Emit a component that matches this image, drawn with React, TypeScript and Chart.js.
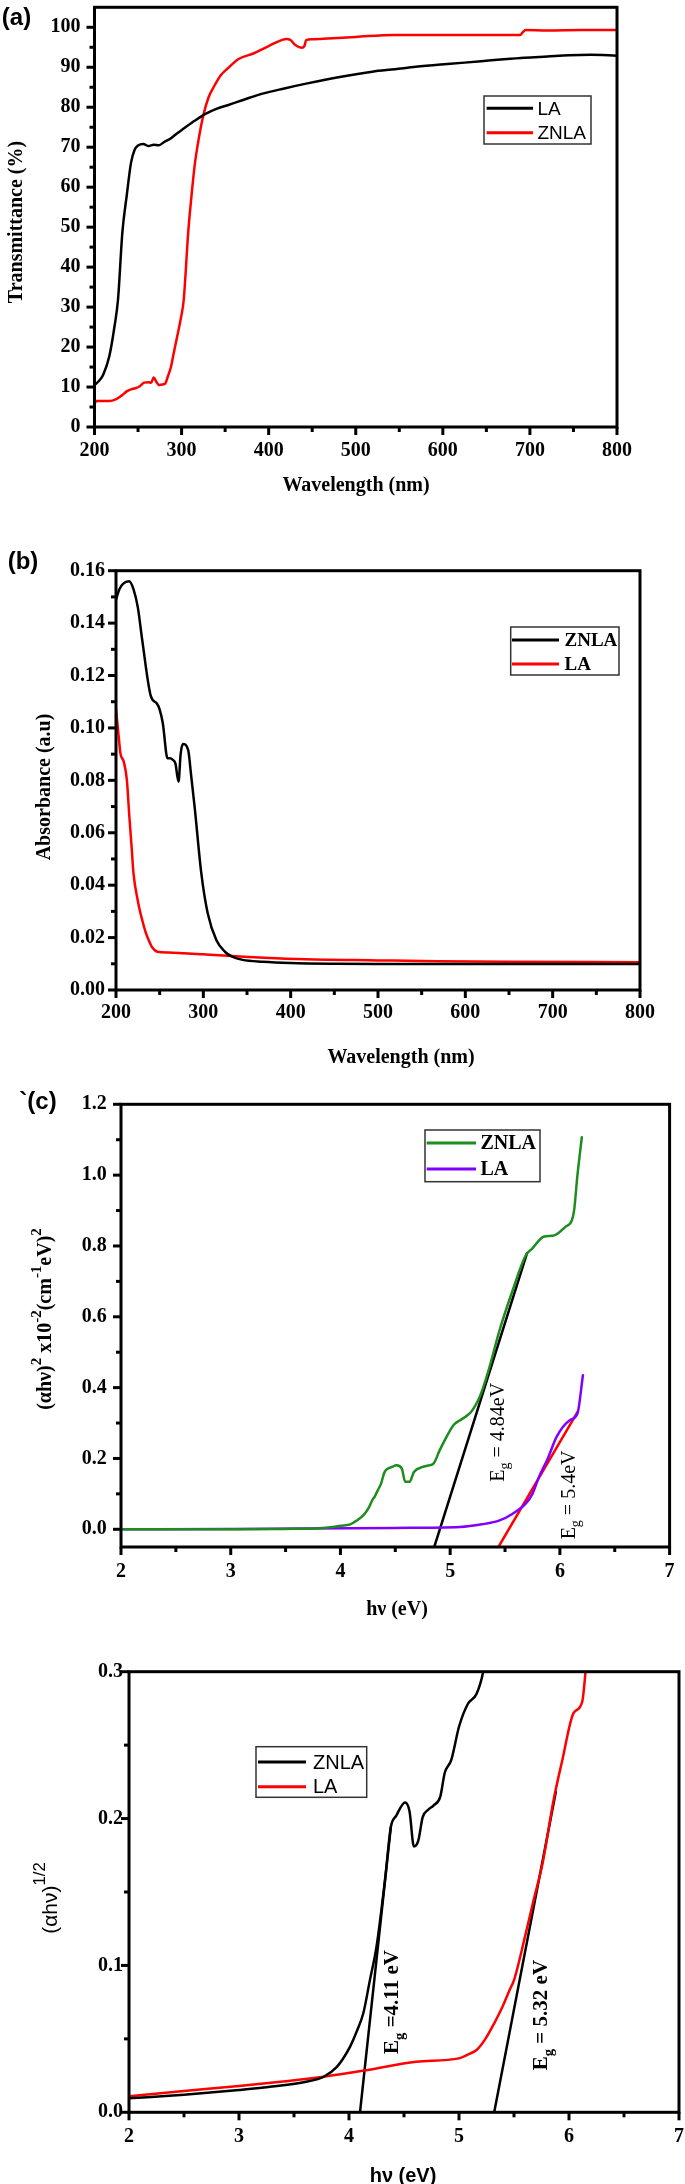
import React, { useEffect, useRef } from 'react';
import { Chart, registerables } from 'chart.js';

Chart.register(...registerables);

const SERIF = '"Liberation Serif", "Times New Roman", serif';
const SANS = '"Liberation Sans", Arial, sans-serif';
const PAGE_W = 685;

// ---------- Panel (a): Transmittance ----------
const waveLA_T = [200, 205, 210, 217, 223, 227, 232, 237, 242, 246, 250, 256, 262, 268, 274, 280, 287, 295, 302, 315, 328, 340, 353, 373, 393, 418, 443, 480, 519, 545, 569, 605, 644, 670, 694, 720, 745, 770, 800];
const transLA = [10.5, 11.5, 13.1, 17.7, 25.2, 31.9, 48.7, 57.9, 66.2, 69.3, 70.4, 70.8, 70.3, 70.6, 70.5, 71.3, 72.1, 73.5, 74.6, 76.6, 78.4, 79.6, 80.5, 82.0, 83.4, 84.7, 85.9, 87.5, 88.9, 89.5, 90.1, 90.8, 91.5, 92.0, 92.4, 92.7, 93.0, 93.1, 92.9];
const waveZN_T = [200, 202, 210, 217, 225, 232, 237, 242, 247, 252, 257, 262, 265, 268, 271, 274, 277, 281, 284, 288, 291, 295, 299, 302.5, 307.6, 311, 315, 320, 325, 331, 338, 345, 353, 365, 383, 400, 421, 425, 431, 438, 441, 443, 450, 468, 500, 544, 600, 650, 689, 692, 695, 720, 760, 800];
const transZN = [5.8, 6.5, 6.5, 6.5, 7.0, 8.0, 8.9, 9.4, 9.7, 10.2, 11.1, 11.2, 11.1, 12.4, 11.3, 10.5, 10.6, 10.8, 12.5, 15.2, 18.5, 22.7, 27.0, 31.9, 48.7, 57.0, 65.4, 72.5, 78.0, 82.5, 85.5, 88.0, 89.7, 92.0, 93.5, 95.3, 97.1, 96.8, 95.5, 94.9, 95.3, 96.8, 97.0, 97.2, 97.6, 98.1, 98.1, 98.1, 98.1, 98.8, 99.3, 99.2, 99.3, 99.3];

// ---------- Panel (b): Absorbance ----------
const waveZN_A = [200, 204, 208, 215, 220, 225, 230, 240, 246.6, 250, 253.6, 259, 262, 265, 268, 271.6, 274, 276.6, 282.6, 286, 290, 297.7, 305, 315, 325, 333, 345, 368, 400, 450, 500, 600, 700, 800];
const absZN = [0.149, 0.153, 0.155, 0.156, 0.153, 0.146, 0.1336, 0.112, 0.1094, 0.107, 0.1018, 0.0884, 0.0884, 0.0878, 0.0865, 0.0795, 0.09, 0.0939, 0.0916, 0.082, 0.07, 0.0445, 0.0293, 0.019, 0.0145, 0.0127, 0.0115, 0.0108, 0.0103, 0.01, 0.0099, 0.0099, 0.0099, 0.0099];
const waveLA_A = [200, 203, 205, 209, 212.5, 215, 218, 220, 225, 230, 234, 237.5, 242, 247.5, 260, 277.6, 300, 333, 370, 417, 500, 568, 650, 800];
const absLA = [0.107, 0.097, 0.0904, 0.087, 0.08, 0.0675, 0.054, 0.0446, 0.034, 0.0267, 0.022, 0.019, 0.016, 0.0146, 0.0143, 0.014, 0.0136, 0.013, 0.0123, 0.0117, 0.0113, 0.011, 0.0108, 0.0106];

// ---------- Panel (c): (αhν)^2 ----------
const eZN_c = [2.0, 3.0, 3.5, 3.8, 3.93, 4.0, 4.09, 4.15, 4.21, 4.26, 4.29, 4.31, 4.34, 4.37, 4.4, 4.43, 4.47, 4.51, 4.56, 4.59, 4.63, 4.67, 4.75, 4.8, 4.85, 4.9, 4.95, 5.03, 5.09, 5.14, 5.19, 5.23, 5.27, 5.35, 5.45, 5.57, 5.69, 5.75, 5.8, 5.85, 5.95, 6.05, 6.11, 6.13, 6.16, 6.2];
const sqZN_c = [0.0, 0.0, 0.001, 0.003, 0.0065, 0.01, 0.014, 0.025, 0.04, 0.062, 0.082, 0.091, 0.11, 0.129, 0.16, 0.171, 0.176, 0.181, 0.171, 0.134, 0.134, 0.162, 0.176, 0.18, 0.186, 0.22, 0.251, 0.294, 0.308, 0.318, 0.331, 0.35, 0.374, 0.449, 0.562, 0.675, 0.774, 0.793, 0.812, 0.826, 0.83, 0.854, 0.873, 0.901, 1.0, 1.107];
const eLA_c = [2.0, 3.0, 3.69, 4.5, 5.09, 5.29, 5.45, 5.57, 5.69, 5.75, 5.81, 5.89, 5.97, 6.09, 6.16, 6.21];
const sqLA_c = [0.0, 0.001, 0.002, 0.004, 0.0065, 0.014, 0.025, 0.044, 0.073, 0.1, 0.148, 0.2, 0.261, 0.308, 0.327, 0.435];
const fitZN_cE = [4.855, 5.7];
const fitZN_cV = [-0.05, 0.779];
const fitLA_cE = [5.44, 6.16];
const fitLA_cV = [-0.05, 0.331];

// ---------- Panel (d): (αhν)^1/2 ----------
const eZN_d = [2.0, 2.5, 3.0, 3.3, 3.61, 3.77, 3.89, 3.95, 4.01, 4.07, 4.13, 4.19, 4.25, 4.33, 4.38, 4.43, 4.51, 4.55, 4.59, 4.63, 4.67, 4.72, 4.77, 4.83, 4.87, 4.93, 5.0, 5.08, 5.16, 5.22, 5.26];
const rtZN_d = [0.0095, 0.012, 0.0152, 0.0175, 0.0208, 0.0242, 0.031, 0.037, 0.0447, 0.055, 0.0674, 0.09, 0.1127, 0.16, 0.194, 0.202, 0.211, 0.205, 0.181, 0.185, 0.201, 0.206, 0.209, 0.215, 0.231, 0.24, 0.2625, 0.278, 0.285, 0.3, 0.32];
const eLA_d = [2.0, 2.5, 3.0, 3.4, 3.77, 4.17, 4.61, 5.0, 5.1, 5.16, 5.24, 5.32, 5.39, 5.46, 5.5, 5.6, 5.68, 5.76, 5.86, 5.94, 6.04, 6.12, 6.15, 6.17];
const rtLA_d = [0.011, 0.0145, 0.0179, 0.021, 0.0242, 0.0288, 0.0344, 0.0367, 0.04, 0.0424, 0.05, 0.0606, 0.071, 0.0833, 0.09, 0.1196, 0.145, 0.1695, 0.2126, 0.24, 0.2716, 0.2795, 0.3, 0.32];
const fitZN_dE = [4.1, 4.38];
const fitZN_dV = [0, 0.194];
const fitLA_dE = [5.32, 5.88];
const fitLA_dV = [0, 0.218];

// ---------- Tick values ----------
const waveTicks = [200, 300, 400, 500, 600, 700, 800];
const waveMinor = [250, 350, 450, 550, 650, 750];
const transTicks = [0, 10, 20, 30, 40, 50, 60, 70, 80, 90, 100];
const transMinor = [5, 15, 25, 35, 45, 55, 65, 75, 85, 95];
const absTicks = [0, 0.02, 0.04, 0.06, 0.08, 0.1, 0.12, 0.14, 0.16];
const absMinor = [0.01, 0.03, 0.05, 0.07, 0.09, 0.11, 0.13, 0.15];
const energyTicks = [2, 3, 4, 5, 6, 7];
const energyMinor = [2.5, 3.5, 4.5, 5.5, 6.5];
const sqTicks = [0, 0.2, 0.4, 0.6, 0.8, 1.0, 1.2];
const sqMinor = [0.1, 0.3, 0.5, 0.7, 0.9, 1.1];
const rtTicks = [0, 0.1, 0.2, 0.3];
const rtMinor = [0.05, 0.15, 0.25];

// ---------- Types ----------
type Seg = { t: string; k?: number; dy?: number };
type FontSpec = { family: string; weight: string; size: number };
type TextSpec = { segs: Seg[]; x: number; y: number; font: FontSpec; rot: number };
type AnnSpec = { segs: Seg[]; ex: number; ey: number; font: FontSpec };
type SeriesSpec = { label: string; xs: number[]; ys: number[]; color: string; width: number; smooth: boolean };
type LegendSpec = { box: number[]; rows: number[]; lineX: number[]; textX: number; font: FontSpec; labels: string[] };
type PanelSpec = {
  key: string; top: number; H: number; L: number; R: number; T: number; B: number;
  xMin: number; xMax: number; yMin: number; yMax: number;
  xTicks: number[]; xMinor: number[]; yTicks: number[]; yMinor: number[];
  xFmt: (v: number) => string; yFmt: (v: number) => string; xPad: number; yPad: number;
  series: SeriesSpec[]; legend: LegendSpec; texts: TextSpec[]; anns: AnnSpec[];
};

const f = (family: string, weight: string, size: number): FontSpec => ({ family, weight, size });
const HALF = -Math.PI / 2;

function drawRich(ctx: CanvasRenderingContext2D, segs: Seg[], cx: number, cy: number, font: FontSpec, rot: number) {
  ctx.save();
  ctx.translate(cx, cy);
  ctx.rotate(rot);
  const setF = (k: number) => { ctx.font = `${font.weight} ${font.size * k}px ${font.family}`; };
  let total = 0;
  const ws = segs.map((s) => { setF(s.k ?? 1); const w = ctx.measureText(s.t).width; total += w; return w; });
  let x = -total / 2;
  ctx.textBaseline = 'alphabetic';
  ctx.textAlign = 'left';
  ctx.fillStyle = '#000';
  const base = font.size * 0.33;
  segs.forEach((s, i) => {
    setF(s.k ?? 1);
    ctx.fillText(s.t, x, base - (s.dy ?? 0) * font.size);
    x += ws[i];
  });
  ctx.restore();
}

function makeDecor(p: PanelSpec) {
  return {
    id: 'decor_' + p.key,
    afterDatasetsDraw(chart: any) {
      const ctx: CanvasRenderingContext2D = chart.ctx;
      const a = chart.chartArea;
      const xs = chart.scales.x;
      const ys = chart.scales.y;
      ctx.save();
      ctx.strokeStyle = '#000';
      ctx.lineWidth = 3;
      ctx.lineCap = 'butt';
      const seg = (x1: number, y1: number, x2: number, y2: number) => { ctx.beginPath(); ctx.moveTo(x1, y1); ctx.lineTo(x2, y2); ctx.stroke(); };
      p.xTicks.forEach((v) => { const px = xs.getPixelForValue(v); seg(px, a.bottom, px, a.bottom + 8); });
      p.xMinor.forEach((v) => { const px = xs.getPixelForValue(v); seg(px, a.bottom, px, a.bottom + 5); });
      p.yTicks.forEach((v) => { const py = ys.getPixelForValue(v); seg(a.left, py, a.left - 8, py); });
      p.yMinor.forEach((v) => { const py = ys.getPixelForValue(v); seg(a.left, py, a.left - 5, py); });
      ctx.strokeRect(a.left, a.top, a.right - a.left, a.bottom - a.top);
      ctx.restore();
    },
    afterDraw(chart: any) {
      const ctx: CanvasRenderingContext2D = chart.ctx;
      const off = p.top;
      const lg = p.legend;
      ctx.save();
      ctx.lineWidth = 1.5;
      ctx.strokeStyle = '#333';
      ctx.strokeRect(lg.box[0], lg.box[1] - off, lg.box[2] - lg.box[0], lg.box[3] - lg.box[1]);
      lg.labels.forEach((lab, i) => {
        const s = p.series.find((q) => q.label === lab);
        const y = lg.rows[i] - off;
        ctx.strokeStyle = s ? s.color : '#000';
        ctx.lineWidth = 3;
        ctx.beginPath(); ctx.moveTo(lg.lineX[0], y); ctx.lineTo(lg.lineX[1], y); ctx.stroke();
        ctx.fillStyle = '#000';
        ctx.font = `${lg.font.weight} ${lg.font.size}px ${lg.font.family}`;
        ctx.textBaseline = 'middle';
        ctx.textAlign = 'left';
        ctx.fillText(lab, lg.textX, y + 1);
      });
      ctx.restore();
      p.texts.forEach((t) => drawRich(ctx, t.segs, t.x, t.y - off, t.font, t.rot));
      const xs = chart.scales.x;
      const ys = chart.scales.y;
      p.anns.forEach((an) => drawRich(ctx, an.segs, xs.getPixelForValue(an.ex), ys.getPixelForValue(an.ey), an.font, HALF));
    },
  };
}

function buildConfig(p: PanelSpec): any {
  const tickFont = { family: SERIF, weight: 'bold', size: 20 };
  return {
    type: 'scatter',
    data: {
      datasets: p.series.map((s) => ({
        label: s.label,
        data: s.xs.map((x, i) => ({ x, y: s.ys[i] })),
        showLine: true,
        borderColor: s.color,
        backgroundColor: s.color,
        borderWidth: s.width,
        pointRadius: 0,
        pointHoverRadius: 0,
        pointHitRadius: 0,
        fill: false,
        tension: 0,
        cubicInterpolationMode: s.smooth ? 'monotone' : 'default',
        borderJoinStyle: 'round',
        borderCapStyle: 'round',
      })),
    },
    options: {
      animation: false,
      responsive: false,
      maintainAspectRatio: false,
      devicePixelRatio: 1,
      events: [],
      layout: { padding: { left: 0, top: p.T, right: PAGE_W - p.R, bottom: 0 } },
      plugins: { legend: { display: false }, tooltip: { enabled: false }, title: { display: false } },
      scales: {
        x: {
          type: 'linear', position: 'bottom', min: p.xMin, max: p.xMax,
          grid: { display: false, drawTicks: false }, border: { display: false },
          ticks: { font: tickFont, color: '#000', padding: p.xPad, maxRotation: 0, minRotation: 0, autoSkip: false, callback: (v: any) => p.xFmt(Number(v)) },
          afterBuildTicks: (s: any) => { s.ticks = p.xTicks.map((v) => ({ value: v })); },
          afterFit: (s: any) => { s.height = p.H - p.B; s.paddingLeft = 0; s.paddingRight = 0; s.paddingTop = 0; s.paddingBottom = 0; },
        },
        y: {
          type: 'linear', position: 'left', min: p.yMin, max: p.yMax,
          grid: { display: false, drawTicks: false }, border: { display: false },
          ticks: { font: tickFont, color: '#000', padding: p.yPad, autoSkip: false, callback: (v: any) => p.yFmt(Number(v)) },
          afterBuildTicks: (s: any) => { s.ticks = p.yTicks.map((v) => ({ value: v })); },
          afterFit: (s: any) => { s.width = p.L; s.paddingLeft = 0; s.paddingRight = 0; s.paddingTop = 0; s.paddingBottom = 0; },
        },
      },
    },
    plugins: [makeDecor(p)],
  };
}

const int = (v: number) => String(Math.round(v));
const fx = (n: number) => (v: number) => v.toFixed(n);

const panels: PanelSpec[] = [
  {
    key: 'a', top: 0, H: 500, L: 94.5, R: 617, T: 7.3, B: 427,
    xMin: 200, xMax: 800, yMin: 0, yMax: 105,
    xTicks: waveTicks, xMinor: waveMinor, yTicks: transTicks, yMinor: transMinor,
    xFmt: int, yFmt: int, xPad: 11.5, yPad: 14,
    series: [
      { label: 'LA', xs: waveLA_T, ys: transLA, color: '#000000', width: 2.5, smooth: true },
      { label: 'ZNLA', xs: waveZN_T, ys: transZN, color: '#ff0000', width: 2.5, smooth: true },
    ],
    legend: { box: [484, 96, 591, 144], rows: [108.3, 132.7], lineX: [486.6, 533], textX: 537.4, font: f(SANS, 'normal', 19), labels: ['LA', 'ZNLA'] },
    texts: [
      { segs: [{ t: 'Wavelength (nm)' }], x: 356, y: 484, font: f(SERIF, 'bold', 20), rot: 0 },
      { segs: [{ t: 'Transmittance (%)' }], x: 15.5, y: 222, font: f(SERIF, 'bold', 20), rot: HALF },
      { segs: [{ t: '(a)' }], x: 16.5, y: 17, font: f(SANS, 'bold', 24), rot: 0 },
    ],
    anns: [],
  },
  {
    key: 'b', top: 500, H: 580, L: 116, R: 640, T: 70.7, B: 490,
    xMin: 200, xMax: 800, yMin: 0, yMax: 0.16,
    xTicks: waveTicks, xMinor: waveMinor, yTicks: absTicks, yMinor: absMinor,
    xFmt: int, yFmt: fx(2), xPad: 11, yPad: 11,
    series: [
      { label: 'ZNLA', xs: waveZN_A, ys: absZN, color: '#000000', width: 2.5, smooth: true },
      { label: 'LA', xs: waveLA_A, ys: absLA, color: '#ff0000', width: 2.5, smooth: true },
    ],
    legend: { box: [510.7, 627, 619, 675], rows: [640, 664], lineX: [512, 559], textX: 564.5, font: f(SERIF, 'bold', 19), labels: ['ZNLA', 'LA'] },
    texts: [
      { segs: [{ t: 'Wavelength (nm)' }], x: 401, y: 1056, font: f(SERIF, 'bold', 20), rot: 0 },
      { segs: [{ t: 'Absorbance (a.u)' }], x: 43.5, y: 787, font: f(SERIF, 'bold', 20), rot: HALF },
      { segs: [{ t: '(b)' }], x: 23, y: 561, font: f(SANS, 'bold', 24), rot: 0 },
    ],
    anns: [],
  },
  {
    key: 'c', top: 1080, H: 560, L: 121, R: 669.6, T: 24.3, B: 467,
    xMin: 2, xMax: 7, yMin: -0.05, yMax: 1.2,
    xTicks: energyTicks, xMinor: energyMinor, yTicks: sqTicks, yMinor: sqMinor,
    xFmt: int, yFmt: fx(1), xPad: 12.7, yPad: 14.3,
    series: [
      { label: 'ZNLA', xs: eZN_c, ys: sqZN_c, color: '#1e8c1e', width: 2.5, smooth: true },
      { label: 'LA', xs: eLA_c, ys: sqLA_c, color: '#8000ff', width: 2.5, smooth: true },
      { label: 'fitZNLA', xs: fitZN_cE, ys: fitZN_cV, color: '#000000', width: 2.5, smooth: false },
      { label: 'fitLA', xs: fitLA_cE, ys: fitLA_cV, color: '#ff0000', width: 2.5, smooth: false },
    ],
    legend: { box: [425, 1130, 540, 1181.7], rows: [1143, 1169], lineX: [426.7, 476], textX: 480.5, font: f(SERIF, 'bold', 20), labels: ['ZNLA', 'LA'] },
    texts: [
      { segs: [{ t: 'hν (eV)' }], x: 397, y: 1608, font: f(SERIF, 'bold', 20), rot: 0 },
      {
        segs: [
          { t: '(αhν)' }, { t: '2', k: 0.75, dy: 0.5 }, { t: ' x10' }, { t: '-2', k: 0.75, dy: 0.5 },
          { t: '(cm' }, { t: '-1', k: 0.75, dy: 0.5 }, { t: 'eV)' }, { t: '2', k: 0.75, dy: 0.5 },
        ],
        x: 44, y: 1319, font: f(SERIF, 'bold', 20), rot: HALF,
      },
      { segs: [{ t: '`(c)' }], x: 38, y: 1101, font: f(SANS, 'bold', 24), rot: 0 },
    ],
    anns: [
      { segs: [{ t: 'E' }, { t: 'g', k: 0.7, dy: -0.25 }, { t: ' = 4.84eV' }], ex: 5.43, ey: 0.274, font: f(SERIF, 'normal', 20) },
      { segs: [{ t: 'E' }, { t: 'g', k: 0.7, dy: -0.25 }, { t: ' = 5.4eV' }], ex: 6.074, ey: 0.097, font: f(SERIF, 'normal', 20) },
    ],
  },
  {
    key: 'd', top: 1640, H: 544, L: 129, R: 679, T: 31.7, B: 472.3,
    xMin: 2, xMax: 7, yMin: 0, yMax: 0.3,
    xTicks: energyTicks, xMinor: energyMinor, yTicks: rtTicks, yMinor: rtMinor,
    xFmt: int, yFmt: fx(1), xPad: 12.4, yPad: 6,
    series: [
      { label: 'ZNLA', xs: eZN_d, ys: rtZN_d, color: '#000000', width: 2.5, smooth: true },
      { label: 'LA', xs: eLA_d, ys: rtLA_d, color: '#ff0000', width: 2.5, smooth: true },
      { label: 'fitZNLA', xs: fitZN_dE, ys: fitZN_dV, color: '#000000', width: 2.5, smooth: false },
      { label: 'fitLA', xs: fitLA_dE, ys: fitLA_dV, color: '#000000', width: 2.5, smooth: false },
    ],
    legend: { box: [256, 1746.7, 366.7, 1797.3], rows: [1762, 1786.7], lineX: [258, 306], textX: 313, font: f(SANS, 'normal', 20), labels: ['ZNLA', 'LA'] },
    texts: [
      { segs: [{ t: 'hν (eV)' }], x: 403, y: 2175, font: f(SANS, 'bold', 20), rot: 0 },
      { segs: [{ t: '(αhν)' }, { t: '1/2', k: 0.8, dy: 0.55 }], x: 50, y: 1898, font: f(SANS, 'normal', 21), rot: HALF },
    ],
    anns: [
      { segs: [{ t: 'E' }, { t: 'g', k: 0.7, dy: -0.25 }, { t: ' =4.11 eV' }], ex: 4.386, ey: 0.0751, font: f(SERIF, 'bold', 21) },
      { segs: [{ t: 'E' }, { t: 'g', k: 0.7, dy: -0.25 }, { t: ' = 5.32 eV' }], ex: 5.741, ey: 0.0662, font: f(SERIF, 'bold', 21) },
    ],
  },
];

function Panel({ spec }: { spec: PanelSpec }) {
  const ref = useRef<HTMLCanvasElement | null>(null);
  useEffect(() => {
    if (!ref.current) return;
    const chart = new Chart(ref.current, buildConfig(spec));
    return () => chart.destroy();
  }, [spec]);
  return (
    <canvas
      ref={ref}
      width={PAGE_W}
      height={spec.H}
      style={{ position: 'absolute', left: 0, top: spec.top, width: PAGE_W, height: spec.H, display: 'block' }}
    />
  );
}

export default function App() {
  return (
    <div style={{ position: 'absolute', left: 0, top: 0, width: PAGE_W, height: 2184, background: '#ffffff' }}>
      {panels.map((p) => (
        <Panel key={p.key} spec={p} />
      ))}
    </div>
  );
}
